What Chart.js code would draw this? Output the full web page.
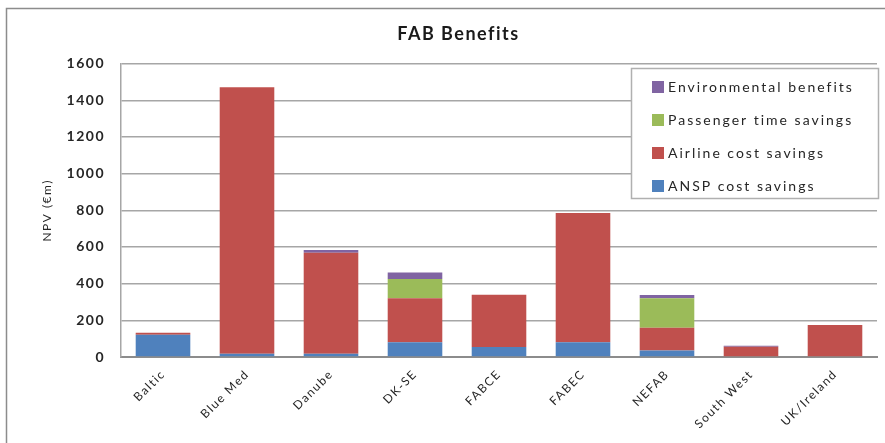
<!DOCTYPE html>
<html>
<head>
<meta charset="utf-8">
<title>FAB Benefits</title>
<script src="https://cdn.jsdelivr.net/npm/chart.js@4.4.1/dist/chart.umd.min.js"></script>
<style>
  html, body { margin: 0; padding: 0; background: #fff; }
  #wrap { width: 885px; height: 443px; position: relative; }
</style>
</head>
<body>
<div id="wrap"><canvas id="fabChart"></canvas></div>
<script>
// Данные графика
const fabs = ["Baltic", "Blue Med", "Danube", "DK-SE", "FABCE", "FABEC", "NEFAB", "South West", "UK/Ireland"];
const ansp = [122, 18, 18, 80, 55, 80, 35, 0, 0];
const airline = [10, 1453, 550, 241, 284, 705, 125, 56, 175];
const passenger = [0, 0, 0, 105, 0, 0, 160, 0, 0];
const environmental = [0, 0, 15, 35, 0, 0, 18, 5, 0];
const yTicks = [0, 200, 400, 600, 800, 1000, 1200, 1400, 1600];

const textColor = "#262626";
const fontFamily = "Lato, 'Liberation Sans', sans-serif";

// Рамка вокруг всей диаграммы + разрядка текста
const frame = {
    id: "frame",
    beforeDraw(chart) {
        const ctx = chart.ctx;
        ctx.save();
        ctx.fillStyle = "#fff";
        ctx.fillRect(0, 0, chart.width, chart.height);
        ctx.strokeStyle = "#8c8c8c";
        ctx.lineWidth = 1.5;
        ctx.strokeRect(6.5, 8.5, chart.width + 20, chart.height + 20);
        ctx.restore();
        ctx.letterSpacing = "1.5px";
    }
};

// Легенда в рамке внутри области графика (в обратном порядке, как в Excel)
const boxLegend = {
    id: "boxLegend",
    afterDraw(chart) {
        const ctx = chart.ctx;
        const x = 631, y = 68, w = 247, h = 130;
        ctx.save();
        ctx.fillStyle = "#fff";
        ctx.fillRect(x, y, w, h);
        ctx.strokeStyle = "#b0b0b0";
        ctx.lineWidth = 1.5;
        ctx.strokeRect(x + 0.5, y + 0.5, w, h);
        ctx.font = "14px " + fontFamily;
        ctx.letterSpacing = "2px";
        ctx.textBaseline = "middle";
        const sets = chart.data.datasets.slice().reverse();
        sets.forEach((ds, i) => {
            const cy = y + 18 + i * 33;
            ctx.fillStyle = ds.backgroundColor;
            ctx.fillRect(x + 21, cy - 5, 12, 12);
            ctx.fillStyle = textColor;
            ctx.fillText(ds.label, x + 37, cy + 1);
        });
        ctx.restore();
    }
};

new Chart(document.getElementById("fabChart"), {
    type: "bar",
    data: {
        labels: fabs,
        datasets: [
            { label: "ANSP cost savings", data: ansp, backgroundColor: "#4f81bd" },
            { label: "Airline cost savings", data: airline, backgroundColor: "#c0504d" },
            { label: "Passenger time savings", data: passenger, backgroundColor: "#9bbb59" },
            { label: "Environmental benefits", data: environmental, backgroundColor: "#8064a2" }
        ]
    },
    options: {
        responsive: true,
        maintainAspectRatio: false,
        animation: false,
        datasets: {
            bar: { barPercentage: 0.65, categoryPercentage: 1.0 }
        },
        layout: { padding: { left: 40, right: 8, top: 0, bottom: 0 } },
        plugins: {
            legend: { display: false },
            tooltip: { enabled: false },
            title: {
                display: true,
                text: "FAB Benefits",
                color: "#1a1a1a",
                font: { family: fontFamily, size: 18, weight: "bold", lineHeight: 1.2 },
                padding: { top: 23, bottom: 19 }
            }
        },
        scales: {
            x: {
                stacked: true,
                grid: { display: false },
                border: { color: "#8c8c8c", width: 2 },
                ticks: {
                    color: textColor,
                    font: { family: fontFamily, size: 12 },
                    maxRotation: 45,
                    minRotation: 45,
                    padding: 2
                },
                afterFit(scale) { scale.height = 443 - 357; }
            },
            y: {
                stacked: true,
                min: 0,
                max: 1600,
                afterBuildTicks(scale) {
                    scale.ticks = yTicks.map((v) => ({ value: v }));
                },
                grid: { color: "#a6a6a6", lineWidth: 1.5, drawTicks: false },
                border: { color: "#a6a6a6", width: 1.5 },
                ticks: {
                    color: textColor,
                    font: { family: fontFamily, size: 14, weight: "bold" },
                    padding: 16,
                    callback: (v) => String(v)
                },
                title: {
                    display: true,
                    text: "NPV (€m)",
                    color: textColor,
                    font: { family: fontFamily, size: 12 },
                    padding: { top: 0, bottom: 0 }
                },
                afterFit(scale) { scale.width = 121 - 40; }
            }
        }
    },
    plugins: [frame, boxLegend]
});
</script>
</body>
</html>
